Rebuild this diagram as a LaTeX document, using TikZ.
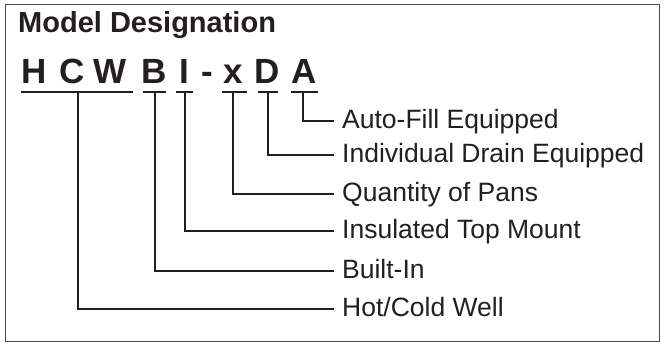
\documentclass[tikz,border=0pt]{standalone}
\usepackage{fontspec}
\setmainfont{Liberation Sans}
\definecolor{ink}{HTML}{231F20}
\definecolor{framegray}{HTML}{4A4A4A}
\begin{document}
\begin{tikzpicture}[x=1pt,y=-1pt,
  conn/.style={line width=2pt, draw=ink},
  uline/.style={line width=2pt, draw=ink},
  letter/.style={font=\fontsize{35}{35}\selectfont\bfseries, anchor=base, inner sep=0pt, text=ink},
  lbl/.style={font=\fontsize{26.5}{30}\selectfont, anchor=west, inner xsep=8pt, inner ysep=0pt, text height=14pt, text depth=0pt, text=ink},
  frame/.style={line width=1.8pt, draw=framegray}]
\useasboundingbox (0,0) rectangle (664,343);
\draw[frame] (5.5,4.5) rectangle (659.5,341.5);
\node[anchor=base west, inner sep=0pt, font=\fontsize{29}{29}\selectfont\bfseries, text=ink] (title) at (18,32) {Model Designation};
% code letters
\node[letter] (H) at (34,83) {H};
\node[letter] (C) at (72.5,83) {C};
\node[letter] (W) at (110,83) {W};
\node[letter] (B) at (154.5,83) {B};
\node[letter] (I) at (184.5,83) {I};
\node[letter] (dash) at (207,83) {-};
\node[letter] (x) at (233.5,83) {x};
\node[letter] (D) at (267.5,83) {D};
\node[letter] (A) at (304,83) {A};
% underlines
\draw[uline] (21,92) -- coordinate[pos=0.51] (uHCW) (133,92);
\draw[uline] (143,92) -- coordinate (uB) (166,92);
\draw[uline] (176,92) -- coordinate (uI) (193,92);
\draw[uline] (222,92) -- coordinate[pos=0.45] (ux) (247,92);
\draw[uline] (258,92) -- coordinate (uD) (278,92);
\draw[uline] (291,92) -- coordinate[pos=0.45] (uA) (318,92);
% labels
\node[lbl] (lA) at (334,121) {Auto-Fill Equipped};
\node[lbl] (lD) at (334,155) {Individual Drain Equipped};
\node[lbl] (lx) at (334,194) {Quantity of Pans};
\node[lbl] (lI) at (334,231) {Insulated Top Mount};
\node[lbl] (lB) at (334,271) {Built-In};
\node[lbl] (lHCW) at (334,309) {Hot/Cold Well};
% connectors
\draw[conn] (uA) |- (lA.west);
\draw[conn] (uD) |- (lD.west);
\draw[conn] (ux) |- (lx.west);
\draw[conn] (uI) |- (lI.west);
\draw[conn] (uB) |- (lB.west);
\draw[conn] (uHCW) |- (lHCW.west);
\end{tikzpicture}
\end{document}
